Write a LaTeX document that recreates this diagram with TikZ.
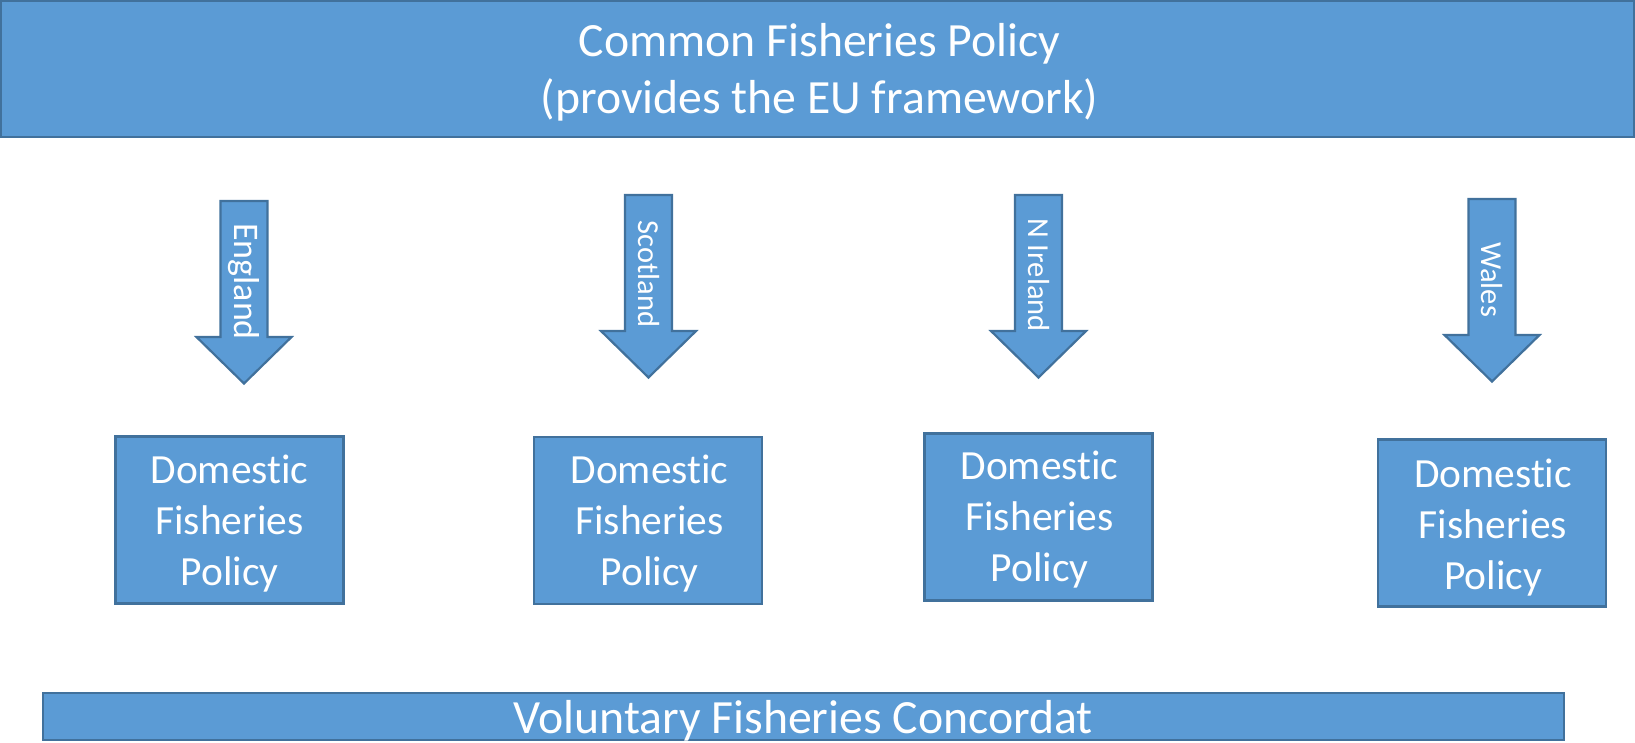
\documentclass[tikz,border=0pt]{standalone}
\usepackage{tikz}
\usepackage{fontspec}
\setmainfont{Carlito}[Ligatures={NoCommon,NoRequired,NoContextual}]
\definecolor{fillblue}{HTML}{5B9BD5}
\definecolor{edgeblue}{HTML}{41719C}
\begin{document}
\begin{tikzpicture}[x=1pt,y=-1pt,
  panel/.style={draw=edgeblue, fill=fillblue, line width=2.2pt, inner sep=0pt},
  caption/.style={text=white, align=center, inner sep=0pt},
  bigtext/.style={font=\fontsize{47.7}{57}\selectfont},
  midtext/.style={font=\fontsize{41.5}{51}\selectfont},
  arrowbody/.style={draw=edgeblue, fill=fillblue, line width=2.2pt, line join=miter}]
\useasboundingbox (0,0) rectangle (1635,742);

% EU framework banner
\node[panel, minimum width=1633pt, minimum height=136pt] (cfp) at (817.5,69) {};
\node[caption, bigtext] (cfptext) at (819.5,72.3)
  {Common Fisheries Policy\\(provides the EU framework)};

% block arrows for the four nations
\foreach \nm/\cx/\ty/\lbl/\ly/\fs in {
    eng/244/201/England/281.5/36,
    sco/648.5/195/Scotland/274/30.5,
    nir/1038.5/195/N Ireland/275/30.5,
    wal/1492/199/Wales/279.5/30.5}{
  \draw[arrowbody] (\cx-23.5,\ty) -- (\cx+23.5,\ty) -- (\cx+23.5,\ty+136)
    -- (\cx+47.5,\ty+136) -- (\cx,\ty+182.5) -- (\cx-47.5,\ty+136)
    -- (\cx-23.5,\ty+136) -- cycle;
  \node[caption, rotate=-90, font=\fontsize{\fs}{\fs}\selectfont]
    (\nm) at (\cx,\ly) {\lbl};
}

% domestic policy boxes
\foreach \nm/\bx/\by/\tx/\tyy in {
    engdfp/229.5/520/229.5/523.5,
    scodfp/648/520.5/649.5/523.5,
    nirdfp/1038.5/517/1039.5/519.5,
    waldfp/1492/523/1493/527.5}{
  \node[panel, minimum width=228pt, minimum height=167pt] (\nm) at (\bx,\by) {};
  \node[caption, midtext] (\nm text) at (\tx,\tyy) {Domestic\\Fisheries\\Policy};
}

% concordat bar
\node[panel, minimum width=1521pt, minimum height=47pt] (vfc) at (803.5,716.5) {};
\node[caption, bigtext] (vfctext) at (803,720.8) {Voluntary Fisheries Concordat};
\end{tikzpicture}
\end{document}
